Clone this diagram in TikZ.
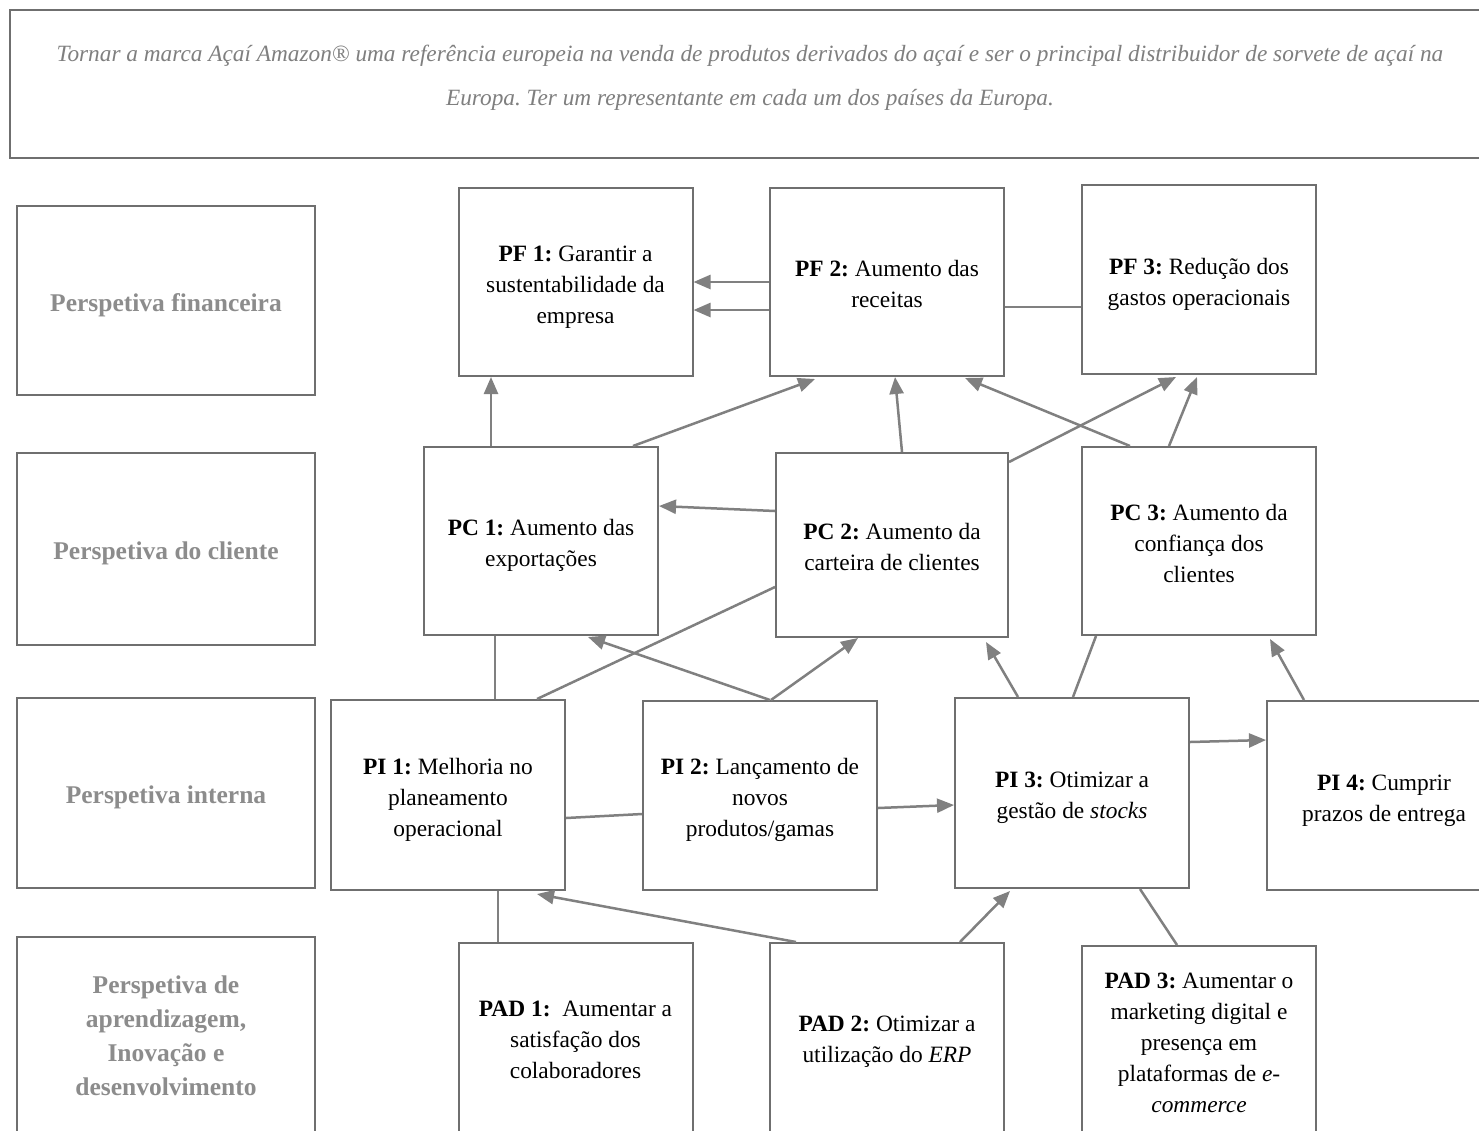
\documentclass[tikz,border=0pt]{standalone}
\usepackage{fontspec}
\setmainfont{Liberation Serif}
\usetikzlibrary{arrows.meta,calc}
\frenchspacing
\definecolor{edge}{HTML}{6F6F6F}
\definecolor{link}{HTML}{808080}
\definecolor{persp}{HTML}{8C8C8C}
\definecolor{mission}{HTML}{7F7F7F}
\newcommand\objfont{\fontsize{23.4}{31}\selectfont}
\newcommand\perspfont{\fontsize{25.5}{34}\selectfont\bfseries}
\newcommand\missionfont{\fontsize{23.3}{44}\selectfont\itshape}
% centred block of lines with uniform line boxes, nudged down by the optional amount
\newcommand\lines[2][-4pt]{\raisebox{#1}[\height][\depth]{\begin{tabular}{@{}c@{}}#2\end{tabular}}}
\begin{document}
\begin{tikzpicture}[x=1pt,y=-1pt,
  frame/.style={draw=edge,line width=2pt,fill=white,inner sep=0pt,align=center},
  objbox/.style={frame,minimum width=234pt,minimum height=188pt,font=\objfont},
  perspbox/.style={frame,minimum width=298pt,minimum height=190pt,font=\perspfont,text=persp},
  conn/.style={draw=link,line width=2.5pt},
  arr/.style={conn,-{Triangle[length=17pt,width=14pt]}}]
\path[use as bounding box,clip] (0,0) rectangle (1479,1130);
\fill[white] (0,0) rectangle (1479,1130);

% mission statement
\node[frame,minimum width=1480pt,minimum height=148pt] (banner) at (750,84) {};
\node[font=\missionfont,text=mission,align=center] (missiontext) at ([yshift=6pt]banner.center)
  {Tornar a marca Açaí Amazon® uma referência europeia na venda de produtos derivados do açaí e ser o principal distribuidor de sorvete de açaí na\\
   Europa. Ter um representante em cada um dos países da Europa.};

% perspectives column
\node[perspbox,minimum height=189pt] (fin) at (166,300.5) {\lines{Perspetiva financeira}};
\node[perspbox,minimum height=192pt] (cli) at (166,549) {\lines{Perspetiva do cliente}};
\node[perspbox] (int) at (166,793) {\lines{Perspetiva interna}};
\node[perspbox,minimum height=196pt] (apr) at (166,1035) {\lines[-3pt]{Perspetiva de\\aprendizagem,\\Inovação e\\desenvolvimento}};

% financial objectives
\node[objbox] (pf1) at (575.5,282) {\lines{\textbf{PF 1:} Garantir a\\sustentabilidade da\\empresa}};
\node[objbox] (pf2) at (887,282) {\lines{\textbf{PF 2:} Aumento das\\receitas}};
\node[objbox,minimum height=189pt] (pf3) at (1199,279.5) {\lines{\textbf{PF 3:} Redução dos\\gastos operacionais}};

% customer objectives
\node[objbox] (pc1) at (541,541) {\lines{\textbf{PC 1:} Aumento das\\exportações}};
\node[objbox,minimum width=232pt,minimum height=184pt] (pc2) at (892,545) {\lines{\textbf{PC 2:} Aumento da\\carteira de clientes}};
\node[objbox] (pc3) at (1199,541) {\lines{\textbf{PC 3:} Aumento da\\confiança dos\\clientes}};

% internal objectives
\node[objbox,minimum height=190pt] (pi1) at (448,795) {\lines{\textbf{PI 1:} Melhoria no\\planeamento\\operacional}};
\node[objbox,minimum height=189pt] (pi2) at (760,795.5) {\lines{\textbf{PI 2:} Lançamento de\\novos\\produtos/gamas}};
\node[objbox,minimum height=190pt] (pi3) at (1072,793) {\lines{\textbf{PI 3:} Otimizar a\\gestão de \textit{stocks}}};
\node[objbox,minimum height=189pt] (pi4) at (1384,795.5) {\lines{\textbf{PI 4:} Cumprir\\prazos de entrega}};

% learning objectives
\node[objbox,minimum height=192pt] (pad1) at (575.5,1039) {\lines[-2pt]{\textbf{PAD 1:}\ \ Aumentar a\\satisfação dos\\colaboradores}};
\node[objbox,minimum height=192pt] (pad2) at (887,1039) {\lines[-2pt]{\textbf{PAD 2:} Otimizar a\\utilização do \textit{ERP}}};
\node[objbox,minimum height=192pt] (pad3) at (1199,1042) {\lines[-2pt]{\textbf{PAD 3:} Aumentar o\\marketing digital e\\presença em\\plataformas de \textit{e-}\\\textit{commerce}}};

% links between financial objectives
\draw[arr] ([yshift=0pt]pf2.west) -- (pf2.west -| pf1.east);
\draw[arr] ([yshift=-28pt]pf2.west) -- ([yshift=-28pt]pf2.west -| pf1.east);
\draw[conn] ([yshift=-25pt]pf2.east) -- ([yshift=-27.5pt]pf3.west);

% customer -> financial
\draw[arr] ([xshift=-50pt]pc1.north) -- ([xshift=-50pt]pc1.north |- pf1.south);
\draw[arr] ([xshift=92pt]pc1.north) -- ([xshift=-72pt,yshift=-2pt]pf2.south);
\draw[arr] ([xshift=10pt]pc2.north) -- ([xshift=8pt]pf2.south);
\draw[arr] ([xshift=-69pt]pc3.north) -- ([xshift=78pt,yshift=-1pt]pf2.south);
\draw[arr] ([yshift=-10pt]pc2.north east) -- ([xshift=-23pt,yshift=-2pt]pf3.south);
\draw[arr] ([xshift=-30pt]pc3.north) -- ([xshift=-2pt,yshift=-2pt]pf3.south);
\draw[arr] ([yshift=34pt]pc2.west) -- ([yshift=35pt]pc1.east);

% internal -> customer
\draw[conn] ([xshift=47pt]pi1.north) -- ([xshift=-46pt]pc1.south);
\draw[conn] ([xshift=89pt]pi1.north) -- ([yshift=-42pt]pc2.west);
\draw[arr] ([xshift=10pt]pi2.north) -- ([xshift=47pt,yshift=-1pt]pc1.south);
\draw[arr] ([xshift=11pt]pi2.north) -- ([xshift=-34pt]pc2.south);
\draw[arr] ([xshift=-54pt]pi3.north) -- ([xshift=-23pt,yshift=-4pt]pc2.south east);
\draw[conn] ([xshift=1pt]pi3.north) -- ([xshift=15pt]pc3.south west);
\draw[arr] ([xshift=-80pt]pi4.north) -- ([xshift=71pt,yshift=-3pt]pc3.south);

% internal -> internal
\draw[conn] ([yshift=-23pt]pi1.east) -- ([yshift=-18.5pt]pi2.west);
\draw[arr] ([yshift=-12.5pt]pi2.east) -- ([yshift=-12pt]pi3.west);
\draw[arr] ([yshift=51pt]pi3.east) -- ([yshift=55.5pt]pi4.west);

% learning -> internal
\draw[conn] ([xshift=-77.5pt]pad1.north) -- ([xshift=50pt]pi1.south);
\draw[arr] ([xshift=-91pt]pad2.north) -- ([xshift=89pt,yshift=-3pt]pi1.south);
\draw[arr] ([xshift=73pt]pad2.north) -- ([xshift=-62pt,yshift=-2pt]pi3.south);
\draw[conn] ([xshift=-22pt]pad3.north) -- ([xshift=68pt]pi3.south);
\end{tikzpicture}
\end{document}
